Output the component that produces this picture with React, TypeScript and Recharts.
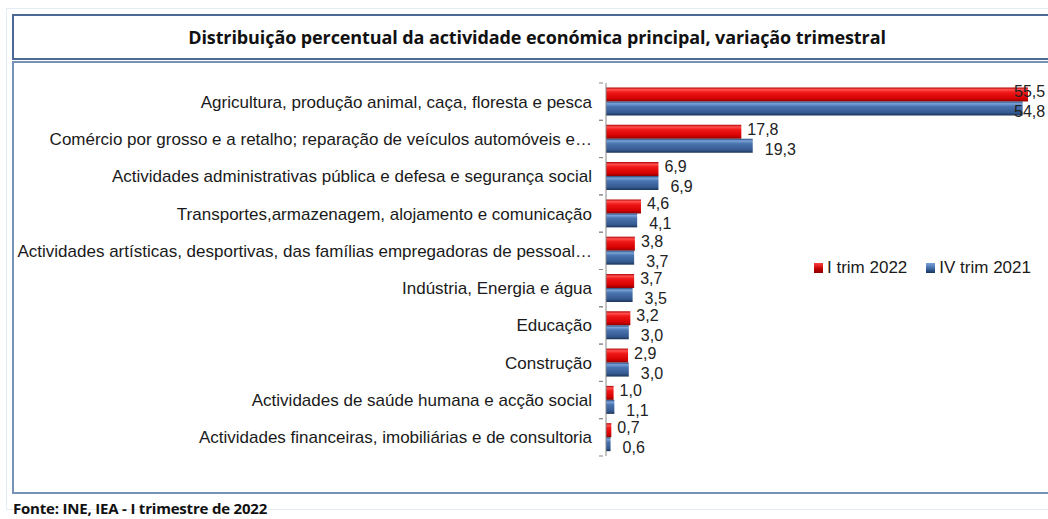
import { BarChart, Bar, XAxis, YAxis, LabelList } from 'recharts';

const categories = [
  'Agricultura, produção animal, caça, floresta e pesca',
  'Comércio por grosso e a retalho; reparação de veículos automóveis e…',
  'Actividades administrativas pública e defesa e segurança social',
  'Transportes,armazenagem, alojamento e comunicação',
  'Actividades artísticas, desportivas, das famílias empregadoras de pessoal…',
  'Indústria, Energia e água',
  'Educação',
  'Construção',
  'Actividades de saúde humana e acção social',
  'Actividades financeiras, imobiliárias e de consultoria',
];
const trim2022 = [55.5, 17.8, 6.9, 4.6, 3.8, 3.7, 3.2, 2.9, 1.0, 0.7];
const trim2021 = [54.8, 19.3, 6.9, 4.1, 3.7, 3.5, 3.0, 3.0, 1.1, 0.6];
const seriesNames = ['I trim 2022', 'IV trim 2021'];

const data = categories.map((name, i) => ({ name, a: trim2022[i], b: trim2021[i] }));

const FONT = '"Liberation Sans", Arial, sans-serif';
const TOP = 83;
const BOTTOM = 456;
const BAND = (BOTTOM - TOP) / categories.length;

const fmt = (v: number) => v.toFixed(1).replace('.', ',');

function CatTick(props: any) {
  const { x, y, payload } = props;
  return (
    <g>
      <line x1={x + 1} x2={x + 5} y1={y - BAND / 2} y2={y - BAND / 2} stroke="#888" />
      <line x1={x + 1} x2={x + 5} y1={y + BAND / 2} y2={y + BAND / 2} stroke="#888" />
      <text x={x - 6} y={y} dy={6} textAnchor="end" fontSize={17} fill="#1a1a1a" fontFamily={FONT}>
        {payload.value}
      </text>
    </g>
  );
}

const makeLabel = (dx: number, dy: number) => (props: any) => {
  const { x, y, width, height, value } = props;
  let lx = x + width + dx;
  if (lx > 1014) lx = 1014;
  return (
    <text x={lx} y={y + height / 2 + dy} dy={5} fontSize={16} fill="#222" fontFamily={FONT}>
      {fmt(value)}
    </text>
  );
};

export default function App() {
  return (
    <div style={{ position: 'absolute', left: 0, top: 0, width: 1048, height: 519, background: '#fff', overflow: 'hidden', fontFamily: FONT }}>
      <div style={{ position: 'absolute', left: 6, top: 8, width: 1060, height: 500, border: '1px solid #e4ecf5' }} />
      <div
        style={{
          position: 'absolute', left: 12, top: 14, width: 1060, height: 46,
          border: '2px solid #4d6a96', boxSizing: 'border-box',
          display: 'flex', alignItems: 'center',
        }}
      >
        <div style={{ width: 1046, textAlign: 'center', fontWeight: 'bold', fontSize: 18, color: '#111', fontFamily: '"Open Sans", sans-serif', letterSpacing: -0.1 }}>
          Distribuição percentual da actividade económica principal, variação trimestral
        </div>
      </div>
      <div style={{ position: 'absolute', left: 12, top: 61, width: 1060, height: 433, border: '2px solid #7891b6', boxSizing: 'border-box' }} />
      <div style={{ position: 'absolute', left: 0, top: 0 }}>
        <BarChart
          width={1048}
          height={519}
          data={data}
          layout="vertical"
          margin={{ top: TOP, right: 1, bottom: 519 - BOTTOM, left: 0 }}
          barCategoryGap="12%"
          barGap={0}
        >
          <defs>
            <linearGradient id="gRed" x1="0" y1="0" x2="0" y2="1">
              <stop offset="0" stopColor="#b00000" />
              <stop offset="0.15" stopColor="#ff5050" />
              <stop offset="0.35" stopColor="#f01818" />
              <stop offset="0.8" stopColor="#d40000" />
              <stop offset="1" stopColor="#8a0000" />
            </linearGradient>
            <linearGradient id="gBlue" x1="0" y1="0" x2="0" y2="1">
              <stop offset="0" stopColor="#2c4a7a" />
              <stop offset="0.15" stopColor="#7aa2d8" />
              <stop offset="0.35" stopColor="#4a74b0" />
              <stop offset="0.8" stopColor="#34598f" />
              <stop offset="1" stopColor="#1b3358" />
            </linearGradient>
          </defs>
          <XAxis type="number" domain={[0, 58]} hide />
          <YAxis
            type="category"
            dataKey="name"
            width={606}
            axisLine={{ stroke: '#888' }}
            tickLine={false}
            tick={<CatTick />}
            interval={0}
          />
          <Bar dataKey="a" name={seriesNames[0]} fill="url(#gRed)" isAnimationActive={false}>
            <LabelList dataKey="a" content={makeLabel(6, -2)} />
          </Bar>
          <Bar dataKey="b" name={seriesNames[1]} fill="url(#gBlue)" isAnimationActive={false}>
            <LabelList dataKey="b" content={makeLabel(12, 4)} />
          </Bar>
        </BarChart>
      </div>
      <div style={{ position: 'absolute', left: 814, top: 258, display: 'flex', alignItems: 'center', fontSize: 17, color: '#1a1a1a' }}>
        <span style={{ width: 9, height: 10, background: 'linear-gradient(#ff4040, #c00000 60%, #8a0000)', marginRight: 4 }} />
        <span style={{ marginRight: 19 }}>{seriesNames[0]}</span>
        <span style={{ width: 9, height: 10, background: 'linear-gradient(#7aa2d8, #3a64a0 60%, #1b3358)', marginRight: 4 }} />
        <span>{seriesNames[1]}</span>
      </div>
      <div style={{ position: 'absolute', left: 13, top: 498, fontSize: 15, fontWeight: 'bold', color: '#111', fontFamily: '"Open Sans", sans-serif', letterSpacing: -0.2 }}>
        Fonte: INE, IEA - I trimestre de 2022
      </div>
    </div>
  );
}
